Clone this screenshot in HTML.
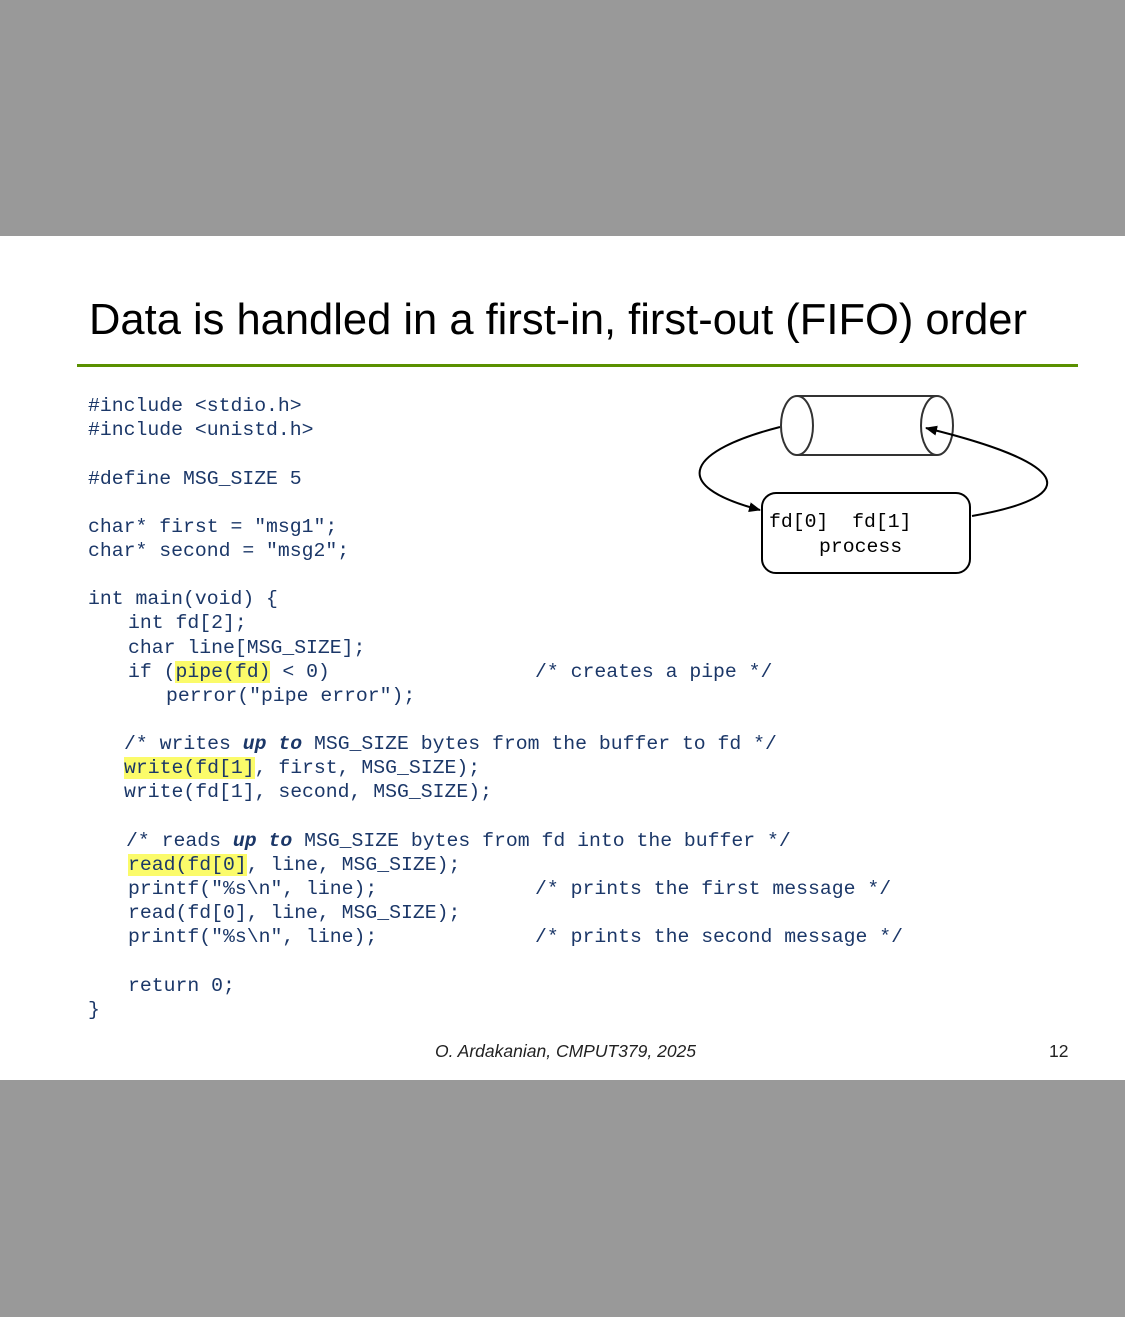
<!DOCTYPE html>
<html><head><meta charset="utf-8"><style>
body{margin:0;width:1125px;height:1317px;background:#fff;position:relative;overflow:hidden}
.band{position:absolute;left:0;width:1125px;background:#999}
.c{position:absolute;font-family:"Liberation Mono",monospace;font-size:19.8px;line-height:24px;height:24px;color:#1b3768;white-space:pre}
.h{background:#fbfb6a}
i{font-style:italic;font-weight:bold}
</style></head><body>
<div class="band" style="top:0;height:236px"></div>
<div class="band" style="top:1080px;height:237px"></div>
<div style="position:absolute;left:89px;top:294px;font-family:'Liberation Sans',sans-serif;font-size:43.5px;line-height:52px;color:#000;white-space:nowrap">Data is handled in a first-in, first-out (FIFO) order</div>
<div style="position:absolute;left:77px;top:364px;width:1001px;height:3px;background:#5a9000"></div>

<div class="c" style="left:88px;top:394px">#include &lt;stdio.h&gt;</div>
<div class="c" style="left:88px;top:418px">#include &lt;unistd.h&gt;</div>
<div class="c" style="left:88px;top:467px">#define MSG_SIZE 5</div>
<div class="c" style="left:88px;top:515px">char* first = "msg1";</div>
<div class="c" style="left:88px;top:539px">char* second = "msg2";</div>
<div class="c" style="left:88px;top:587px">int main(void) {</div>
<div class="c" style="left:128px;top:611px">int fd[2];</div>
<div class="c" style="left:128px;top:636px">char line[MSG_SIZE];</div>
<div class="c" style="left:128px;top:660px">if (<span class="h">pipe(fd)</span> &lt; 0)</div>
<div class="c" style="left:535px;top:660px">/* creates a pipe */</div>
<div class="c" style="left:166px;top:684px">perror("pipe error");</div>
<div class="c" style="left:124px;top:732px">/* writes <i>up to</i> MSG_SIZE bytes from the buffer to fd */</div>
<div class="c" style="left:124px;top:756px"><span class="h">write(fd[1]</span>, first, MSG_SIZE);</div>
<div class="c" style="left:124px;top:780px">write(fd[1], second, MSG_SIZE);</div>
<div class="c" style="left:126px;top:829px">/* reads <i>up to</i> MSG_SIZE bytes from fd into the buffer */</div>
<div class="c" style="left:128px;top:853px"><span class="h">read(fd[0]</span>, line, MSG_SIZE);</div>
<div class="c" style="left:128px;top:877px">printf("%s\n", line);</div>
<div class="c" style="left:535px;top:877px">/* prints the first message */</div>
<div class="c" style="left:128px;top:901px">read(fd[0], line, MSG_SIZE);</div>
<div class="c" style="left:128px;top:925px">printf("%s\n", line);</div>
<div class="c" style="left:535px;top:925px">/* prints the second message */</div>
<div class="c" style="left:128px;top:974px">return 0;</div>
<div class="c" style="left:88px;top:998px">}</div>

<svg style="position:absolute;left:0;top:0" width="1125" height="1317">
<defs><marker id="a" markerWidth="12" markerHeight="10" refX="11" refY="5" orient="auto" markerUnits="userSpaceOnUse"><path d="M0,0 L12,5 L0,10 z" fill="#000"/></marker></defs>
<g fill="none" stroke="#333" stroke-width="2">
<line x1="797" y1="396" x2="937" y2="396"/>
<line x1="797" y1="455" x2="937" y2="455"/>
<ellipse cx="797" cy="425.5" rx="16" ry="29.5" fill="#fff"/>
<ellipse cx="937" cy="425.5" rx="16" ry="29.5"/>
</g>
<rect x="762" y="493" width="208" height="80" rx="14" fill="#fff" stroke="#000" stroke-width="2"/>
<path d="M780,427 C690,450 665,485 760,510" fill="none" stroke="#000" stroke-width="2" marker-end="url(#a)"/>
<path d="M972,516 C1090,495 1065,462 926,428" fill="none" stroke="#000" stroke-width="2" marker-end="url(#a)"/>
</svg>
<div class="c" style="left:769px;top:510px;color:#000">fd[0]  fd[1]</div>
<div class="c" style="left:819px;top:535px;color:#000">process</div>

<div style="position:absolute;left:435px;top:1041px;font-family:'Liberation Sans',sans-serif;font-style:italic;font-size:17.5px;color:#222">O. Ardakanian, CMPUT379, 2025</div>
<div style="position:absolute;left:1049px;top:1041px;font-family:'Liberation Sans',sans-serif;font-size:17.5px;color:#222">12</div>
</body></html>
